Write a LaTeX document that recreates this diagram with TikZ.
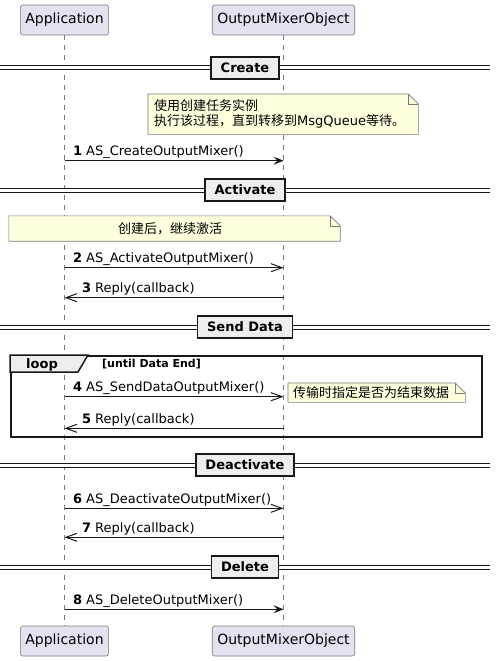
\documentclass[tikz,border=0pt]{standalone}
\usepackage{fontspec}
\setmainfont{DejaVu Sans}
\newfontfamily\cjk{Noto Sans CJK SC}
\usetikzlibrary{arrows.meta,positioning}
\pgfdeclarelayer{bg}
\pgfsetlayers{bg,main}

\definecolor{actorfill}{HTML}{E2E2F0}
\definecolor{notefill}{HTML}{FEFFDD}
\definecolor{sepfill}{HTML}{EEEEEE}
\definecolor{ink}{HTML}{181818}
\definecolor{rim}{HTML}{7A7A7A}

\tikzset{
  actor/.style={rectangle, rounded corners=2.5pt, draw=rim, line width=0.6pt, fill=actorfill,
    minimum height=30pt, inner xsep=5pt, font=\fontsize{14}{16}\selectfont},
  lifeline/.style={draw=rim, line width=0.5pt, dash pattern=on 5pt off 5pt},
  divider/.style={draw=ink, line width=1.5pt, fill=sepfill, minimum height=22pt,
    inner xsep=9.5pt, font=\bfseries\fontsize{13}{15}\selectfont},
  sepline/.style={draw=ink, line width=1pt, double=white, double distance=3pt},
  notetext/.style={inner sep=0pt, font=\cjk\fontsize{13}{15}\selectfont},
  notebody/.style={draw=rim, line width=0.6pt, fill=notefill},
  frame/.style={draw=ink, line width=1.5pt},
  sync/.style={draw=ink, line width=1pt, -{Stealth[length=10pt,width=8pt,inset=4pt]}},
  async/.style={draw=ink, line width=1pt, -{Straight Barb[length=11pt,width=8pt]}},
  msg/.style={anchor=base west, inner sep=0pt, yshift=5pt, text=black,
    font=\fontsize{13}{15}\selectfont}
}

\begin{document}
\begin{tikzpicture}[x=1pt, y=-1pt, node distance=219pt, on grid]
    \useasboundingbox (0,0) rectangle (496,661);

    % participants
    \node[actor] (app) at (64.5,20) {Application};
    \node[actor, right=219pt of app] (omo) {OutputMixerObject};
    \node[actor, below=621pt of app] (appb) {Application};
    \node[actor, below=621pt of omo] (omob) {OutputMixerObject};

    \begin{pgfonlayer}{bg}
    \draw[lifeline] (app) -- (appb);
    \draw[lifeline] (omo) -- (omob);
    \end{pgfonlayer}

    % dividers
    \foreach \name/\y/\txt in {create/68/Create, activate/190/Activate,
        senddata/327/Send Data, deactivate/465/Deactivate, delete/567/Delete} {
      \draw[sepline] (0,\y) -- (490,\y);
      \node[divider] (\name) at (245,\y) {\txt};
    }

    % notes
    \node[notetext, anchor=north west, minimum width=270pt, minimum height=40pt,
      text width=258pt, align=left] (n1) at (148,94)
      {使用创建任务实例\\执行该过程，直到转移到{\rmfamily MsgQueue}等待。};
    \node[notetext, minimum width=331pt, minimum height=25pt] (n2) at (174.5,228.5)
      {\hspace{-9pt}创建后，继续激活};
    \node[notetext, anchor=north west, minimum width=177pt, minimum height=19pt,
      text width=167pt, align=left] (n3) at (288,383)
      {传输时指定是否为结束数据};

    \begin{pgfonlayer}{bg}
    \foreach \n in {n1,n2,n3} {
      \draw[notebody] (\n.north west) -- ([xshift=-10pt]\n.north east)
        -- ([yshift=-10pt]\n.north east) -- (\n.south east) -- (\n.south west) -- cycle;
      \draw[notebody, fill=none] ([xshift=-10pt]\n.north east) |- ([yshift=-10pt]\n.north east);
    }
    \end{pgfonlayer}

    % loop frame
    \node[frame, anchor=north west, minimum width=471pt, minimum height=81pt] (loop) at (10,355) {};
    \draw[frame, fill=sepfill] (loop.north west) -- ++(78,0) -- ++(-10,17) -- ++(-68,0) -- cycle;
    \node[anchor=base west, inner sep=0pt, font=\bfseries\fontsize{13}{15}\selectfont] (looptag) at (26,368) {loop};
    \node[anchor=base west, inner sep=0pt, font=\bfseries\fontsize{11}{13}\selectfont] (loopcond) at (102,367) {[until Data End]};

    % messages
    \foreach \i/\y in {1/160.7, 2/267.7, 3/297.7, 4/396.7, 5/428.3, 6/508.3, 7/537.3, 8/609.3} {
      \coordinate (a\i) at (app |- 0,\y);
      \coordinate (o\i) at (omo |- 0,\y);
    }
    \path
     (a1) edge[sync]  node[msg, at start, xshift=8pt]  (l1) {\textbf{1} AS\_CreateOutputMixer()} (o1)
     (a2) edge[async] node[msg, at start, xshift=8pt]  (l2) {\textbf{2} AS\_ActivateOutputMixer()} (o2)
     (o3) edge[async] node[msg, at end, xshift=17pt]   (l3) {\textbf{3} Reply(callback)} (a3)
     (a4) edge[async] node[msg, at start, xshift=8pt]  (l4) {\textbf{4} AS\_SendDataOutputMixer()} (o4)
     (o5) edge[async] node[msg, at end, xshift=17pt]   (l5) {\textbf{5} Reply(callback)} (a5)
     (a6) edge[async] node[msg, at start, xshift=8pt]  (l6) {\textbf{6} AS\_DeactivateOutputMixer()} (o6)
     (o7) edge[async] node[msg, at end, xshift=17pt]   (l7) {\textbf{7} Reply(callback)} (a7)
     (a8) edge[sync]  node[msg, at start, xshift=8pt]  (l8) {\textbf{8} AS\_DeleteOutputMixer()} (o8);
\end{tikzpicture}
\end{document}
